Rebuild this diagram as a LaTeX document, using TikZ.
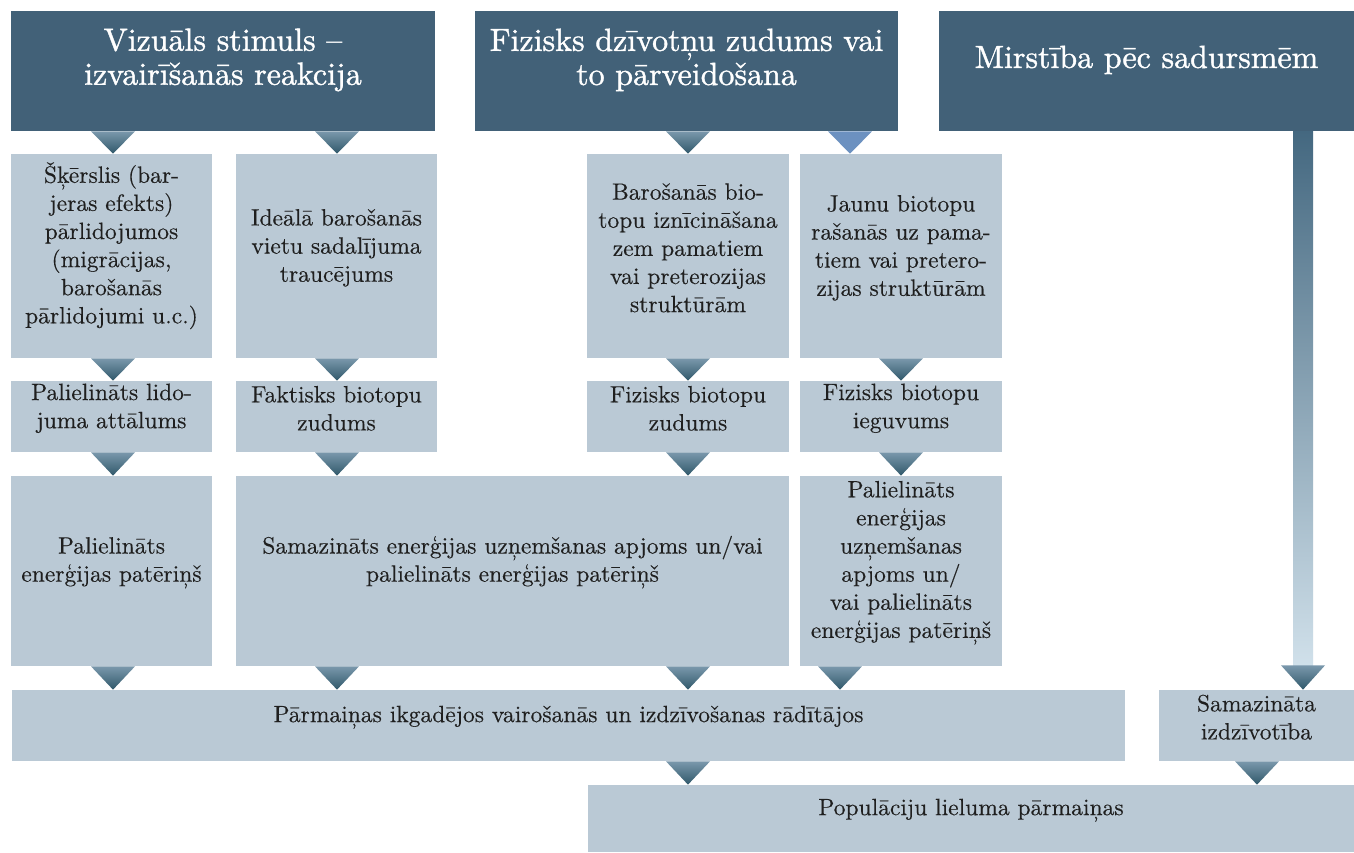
\documentclass[tikz,border=0pt]{standalone}
\usepackage{fontspec}
\usetikzlibrary{calc,fit}

\newfontfamily\headfont{lmroman10-regular.otf}[FakeBold=1.2]
\newfontfamily\bodyfont{lmroman10-regular.otf}[FakeBold=0.3]

\definecolor{hdark}{RGB}{66,97,120}
\definecolor{boxc}{RGB}{186,201,213}
\definecolor{tritop}{RGB}{122,152,172}
\definecolor{tribot}{RGB}{48,88,106}
\definecolor{trilight}{RGB}{108,145,192}
\definecolor{bartop}{RGB}{68,104,128}
\definecolor{barbot}{RGB}{208,224,234}

\tikzset{
  hbox/.style={fill=hdark, text=white, inner sep=0pt, align=center,
    font=\headfont\fontsize{18.2}{19.4}\selectfont},
  lbox/.style={fill=boxc, text=black!88, inner sep=0pt, align=center,
    font=\bodyfont\fontsize{13.4}{16}\selectfont},
  tri/.style={top color=tritop, bottom color=tribot},
  bar/.style={top color=bartop, bottom color=barbot, inner sep=0pt},
}

% triangle pointer: x position, upper node, lower node
\newcommand{\dtri}[4][tri]{%
  \path[#1] ($(#2,0 |- #3.south)+(-22,0)$) -- ($(#2,0 |- #3.south)+(22,0)$)
    -- (#2,0 |- #4.north) -- cycle;}

\begin{document}
\begin{tikzpicture}[x=0.02cm, y=-0.02cm]
\useasboundingbox[fill=white] (0,0) rectangle (1354,852);

% Koptemas
\node[hbox, fit={(11,11) (435,131)}] (h1) {Vizuāls stimuls –\\izvairīšanās reakcija};
\node[hbox, fit={(475,11) (898,131)}] (h2) {Fizisks dzīvotņu zudums vai\\to pārveidošana};
\node[hbox, fit={(939,11) (1354,131)}] (h3) {Mirstība pēc sadursmēm};

% otrā rinda
\node[lbox, fit={(11,154) (212,358)}] (b1) {Šķērslis (bar-\\jeras efekts)\\pārlidojumos\\(migrācijas,\\barošanās\\pārlidojumi u.c.)};
\node[lbox, fit={(236,154) (437,358)}] (b2) {Ideālā barošanās\\vietu sadalījuma\\traucējums};
\node[lbox, fit={(587,154) (789,358)}] (b3) {Barošanās bio-\\topu iznīcināšana\\zem pamatiem\\vai preterozijas\\struktūrām};
\node[lbox, fit={(800,154) (1002,358)}] (b4) {Jaunu biotopu\\rašanās uz pama-\\tiem vai pretero-\\zijas struktūrām};

% trešā rinda
\node[lbox, fit={(11,381) (212,452)}] (c1) {Palielināts lido-\\juma attālums};
\node[lbox, fit={(236,381) (437,452)}] (c2) {Faktisks biotopu\\zudums};
\node[lbox, fit={(587,381) (789,452)}] (c3) {Fizisks biotopu\\zudums};
\node[lbox, fit={(800,381) (1002,452)}] (c4) {Fizisks biotopu\\ieguvums};

% ceturtā rinda
\node[lbox, fit={(11,476) (212,666)}] (d1) {Palielināts\\enerģijas patēriņš};
\node[lbox, fit={(236,476) (789,666)}] (d2) {Samazināts enerģijas uzņemšanas apjoms un/vai\\palielināts enerģijas patēriņš};
\node[lbox, fit={(800,476) (1002,666)}] (d3) {Palielināts\\enerģijas\\uzņemšanas\\apjoms un/\\vai palielināts\\enerģijas patēriņš};

% apakša
\node[lbox, fit={(12,690) (1125,761)}] (e1) {Pārmaiņas ikgadējos vairošanās un izdzīvošanas rādītājos};
\node[lbox, fit={(1159,690) (1354,761)}] (e2) {Samazināta\\izdzīvotība};
\node[lbox, fit={(588,785) (1354,852)}] (f) {Populāciju lieluma pārmaiņas};

\node[bar, fit={(1293,131) (1313,665)}] (vbar) {};

% bultas
\dtri{113}{h1}{b1}
\dtri{337}{h1}{b2}
\dtri{688}{h2}{b3}
\dtri[fill=trilight]{850}{h2}{b4}
\dtri{113}{b1}{c1}
\dtri{337}{b2}{c2}
\dtri{688}{b3}{c3}
\dtri{901}{b4}{c4}
\dtri{113}{c1}{d1}
\dtri{337}{c2}{d2}
\dtri{688}{c3}{d2}
\dtri{901}{c4}{d3}
\dtri{113}{d1}{e1}
\dtri{337}{d2}{e1}
\dtri{688}{d2}{e1}
\dtri{840}{d3}{e1}
\dtri{1303}{vbar}{e2}
\dtri{688}{e1}{f}
\dtri{1257}{e2}{f}
\end{tikzpicture}
\end{document}
